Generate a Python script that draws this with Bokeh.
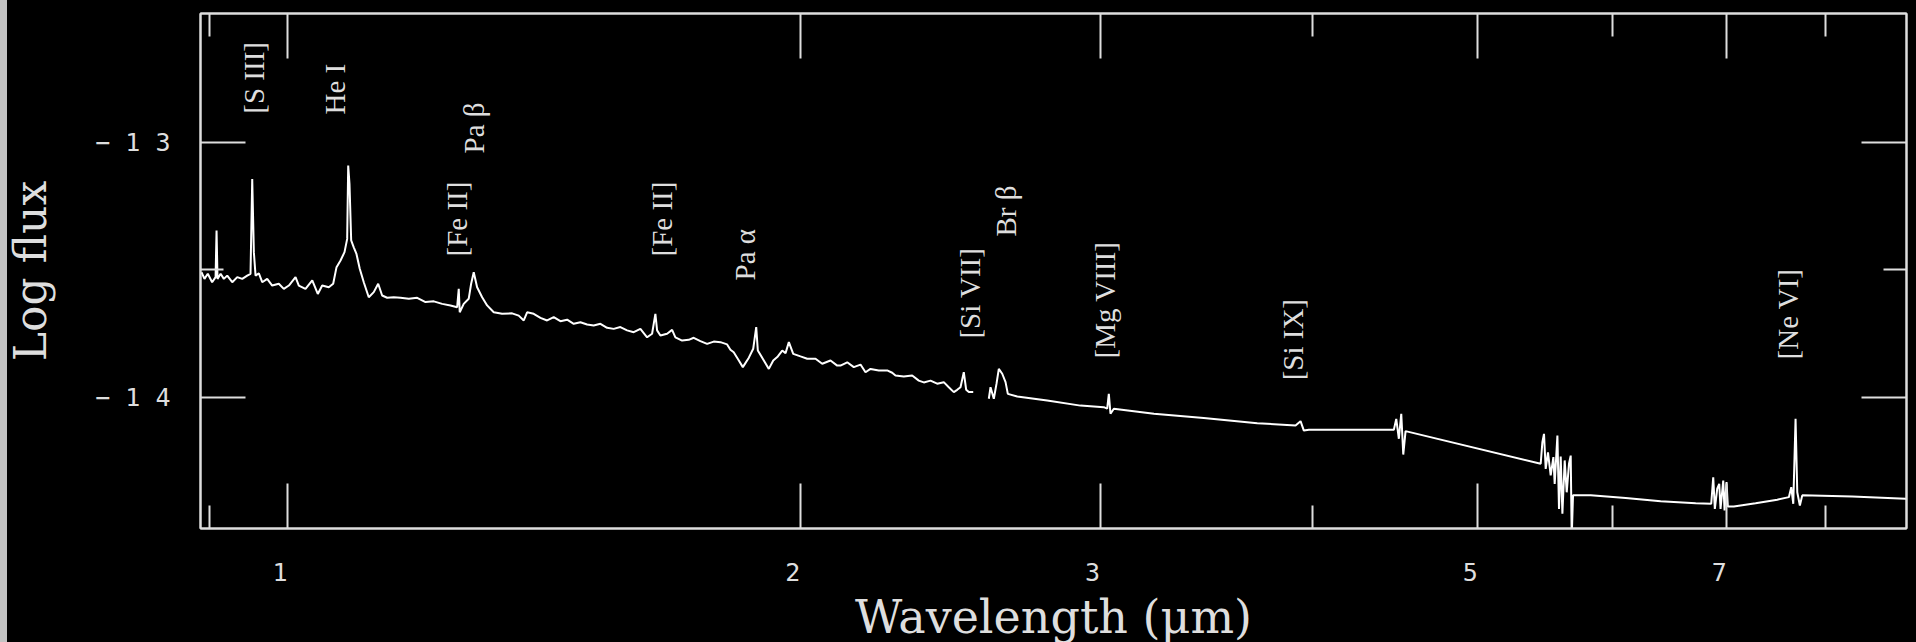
import numpy as np
from bokeh.plotting import figure
from bokeh.models import (Range1d, FixedTicker, LogAxis, LinearAxis,
                          GlobalInlineStyleSheet, CustomLabelingPolicy)
from bokeh.core.properties import value
from bokeh.embed import file_html
from bokeh.resources import INLINE

NAN = float("nan")

# Spectrum: wavelength (micron) and log flux
wavelength = [
    0.8902, 0.8938, 0.8978, 0.9031, 0.9073, 0.9085, 0.9097, 0.9135, 0.9175, 0.9217,
    0.9280, 0.9343, 0.9406, 0.9470, 0.9512, 0.9534, 0.9555, 0.9577, 0.9620, 0.9664,
    0.9729, 0.9795, 0.9883, 0.9950, 1.0018, 1.0109, 1.0154, 1.0246, 1.0340, 1.0418,
    1.0480, 1.0574, 1.0637, 1.0685, 1.0743, 1.0801, 1.0840, 1.0855, 1.0874, 1.0899,
    1.0937, 1.0977, 1.1026, 1.1086, 1.1161, 1.1237, 1.1304, 1.1365, 1.1442, 1.1545,
    1.1650, 1.1782, 1.1916, 1.2051, 1.2187, 1.2326, 1.2465, 1.2578, 1.2605, 1.2622,
    1.2690, 1.2776, 1.2818, 1.2863, 1.2922, 1.3010, 1.3098, 1.3216, 1.3366, 1.3548,
    1.3670, 1.3763, 1.3826, 1.3950, 1.4077, 1.4205, 1.4332, 1.4462, 1.4594, 1.4725,
    1.4859, 1.4994, 1.5128, 1.5266, 1.5405, 1.5543, 1.5684, 1.5827, 1.5969, 1.6114,
    1.6261, 1.6371, 1.6444, 1.6482, 1.6556, 1.6706, 1.6820, 1.6895, 1.7049, 1.7202,
    1.7319, 1.7476, 1.7635, 1.7794, 1.7956, 1.8119, 1.8200, 1.8281, 1.8408, 1.8508,
    1.8659, 1.8770, 1.8846, 1.8887, 1.9041, 1.9170, 1.9285, 1.9405, 1.9521, 1.9608,
    1.9696, 1.9813, 2.0009, 2.0191, 2.0419, 2.0605, 2.0837, 2.1027, 2.1120, 2.1313,
    2.1504, 2.1700, 2.1847, 2.1995, 2.2243, 2.2497, 2.2650, 2.2751, 2.3008, 2.3270,
    2.3479, 2.3638, 2.3853, 2.4070, 2.4286, 2.4451, 2.4617, 2.4730, 2.4841, 2.4952,
    2.5033, 2.5122, 2.5272, 2.5500,
    2.5811, 2.5870, 2.5986, 2.6081, 2.6162, 2.6283, 2.6401, 2.6483, 2.6822, 2.7931,
    2.9217, 3.0152, 3.0291, 3.0357, 3.0426, 3.0563, 3.2265, 3.4514, 3.7105, 3.9076,
    3.9341, 3.9517, 3.9786, 4.4631, 4.4776, 4.4934, 4.5080, 4.5202, 4.5343, 5.4432,
    5.4557, 5.4676, 5.4802, 5.4972, 5.5173, 5.5375, 5.5472, 5.5676, 5.5797, 5.5925,
    5.6053, 5.6228, 5.6381, 5.6556, 5.6687, 5.6763, 5.6864, 5.8240, 6.1061, 6.4016,
    6.7125, 6.8549, 6.8734, 6.8883, 6.9107, 6.9295, 6.9417, 6.9670, 6.9794, 6.9982,
    7.0105, 7.0676, 7.2784, 7.4950, 7.6135, 7.6382, 7.6589, 7.6827, 7.7004, 7.7276,
    7.7527, 8.2946, 8.9140, 8.9743,
]
log_flux = [
    -13.510, -13.536, -13.516, -13.549, -13.529, -13.346, -13.536, -13.516, -13.536, -13.523,
    -13.549, -13.529, -13.536, -13.523, -13.516, -13.144, -13.431, -13.523, -13.514, -13.549,
    -13.536, -13.562, -13.555, -13.575, -13.562, -13.529, -13.562, -13.575, -13.542, -13.595,
    -13.562, -13.569, -13.555, -13.490, -13.464, -13.431, -13.379, -13.091, -13.163, -13.385,
    -13.412, -13.438, -13.496, -13.549, -13.608, -13.588, -13.555, -13.601, -13.610, -13.608,
    -13.610, -13.614, -13.610, -13.627, -13.624, -13.634, -13.640, -13.647, -13.575, -13.667,
    -13.634, -13.614, -13.555, -13.510, -13.569, -13.608, -13.640, -13.667, -13.673, -13.671,
    -13.680, -13.699, -13.667, -13.673, -13.689, -13.699, -13.686, -13.702, -13.696, -13.712,
    -13.706, -13.715, -13.719, -13.712, -13.728, -13.732, -13.725, -13.738, -13.745, -13.732,
    -13.765, -13.751, -13.673, -13.738, -13.758, -13.751, -13.736, -13.765, -13.778, -13.775,
    -13.767, -13.780, -13.791, -13.782, -13.784, -13.793, -13.814, -13.824, -13.856, -13.882,
    -13.845, -13.810, -13.725, -13.817, -13.856, -13.889, -13.856, -13.840, -13.817, -13.827,
    -13.784, -13.830, -13.840, -13.849, -13.849, -13.869, -13.856, -13.876, -13.876, -13.863,
    -13.882, -13.872, -13.902, -13.889, -13.895, -13.895, -13.904, -13.915, -13.919, -13.915,
    -13.935, -13.942, -13.935, -13.947, -13.941, -13.961, -13.980, -13.971, -13.961, -13.902,
    -13.971, -13.980, -13.980, NAN,
    -14.006, -13.961, -14.006, -13.947, -13.889, -13.908, -13.941, -13.987, -13.997, -14.013,
    -14.033, -14.039, -14.045, -13.987, -14.065, -14.045, -14.065, -14.082, -14.102, -14.111,
    -14.094, -14.131, -14.128, -14.128, -14.085, -14.163, -14.065, -14.225, -14.133, -14.261,
    -14.176, -14.144, -14.281, -14.216, -14.307, -14.235, -14.340, -14.150, -14.438, -14.233,
    -14.457, -14.248, -14.373, -14.261, -14.229, -14.550, -14.385, -14.385, -14.395, -14.408,
    -14.416, -14.418, -14.314, -14.438, -14.359, -14.340, -14.438, -14.327, -14.444, -14.333,
    -14.429, -14.429, -14.416, -14.402, -14.392, -14.353, -14.418, -14.085, -14.373, -14.425,
    -14.385, -14.389, -14.398, -14.399,
]

# Emission-line identifications: name, wavelength, log flux where the label starts
line_names = ["[S III]", "He I", "[Fe II]", "Pa β", "[Fe II]", "Pa α",
              "[Si VII]", "Br β", "[Mg VIII]", "[Si IX]", "[Ne VI]"]
line_wavelengths = [0.956, 1.067, 1.258, 1.287, 1.659, 1.856,
                    2.515, 2.641, 3.022, 3.892, 7.605]
label_base = [-12.888, -12.891, -13.448, -13.044, -13.448, -13.542,
              -13.770, -13.370, -13.848, -13.934, -13.852]

x_major = [1, 2, 3, 5, 7]
x_minor = [0.9, 4, 6, 8]
x_labels = ["1", "2", "3", "5", "7"]
y_major = [-14, -13]
y_minor = [-13.5]
y_labels = ["−\u00a01\u00a04", "−\u00a01\u00a03"]

FG = "#dedede"

p = figure(width=1916, height=653, x_axis_type="log",
           x_range=Range1d(0.889, 8.926), y_range=Range1d(-14.515, -12.495),
           output_backend="svg", toolbar_location=None,
           background_fill_color="black", border_fill_color="black",
           min_border_left=200, min_border_right=10, min_border_top=13,
           min_border_bottom=125,
           outline_line_color=FG, outline_line_width=2)
p.grid.visible = False

p.stylesheets = [GlobalInlineStyleSheet(css=(
    "html{overflow:hidden;background:#000;}"
    "body{background:#000;overflow:hidden;}"
    "body::after{content:'';position:fixed;left:0;top:0;width:7px;height:100%;"
    "background:#c3c3c3;z-index:2147483647;pointer-events:none;}"))]

p.add_layout(LogAxis(), "above")
p.add_layout(LinearAxis(), "right")

x_ticker = FixedTicker(ticks=x_major, minor_ticks=x_minor)
y_ticker = FixedTicker(ticks=y_major, minor_ticks=y_minor)

for ax in p.xaxis:
    ax.ticker = x_ticker
for ax in p.yaxis:
    ax.ticker = y_ticker

for ax in list(p.xaxis) + list(p.yaxis):
    ax.major_tick_in = 45
    ax.major_tick_out = 0
    ax.minor_tick_in = 23
    ax.minor_tick_out = 0
    ax.major_tick_line_color = FG
    ax.minor_tick_line_color = FG
    ax.major_tick_line_width = 2
    ax.minor_tick_line_width = 2
    ax.axis_line_color = FG
    ax.axis_line_width = 2
    ax.major_label_text_color = FG
    ax.major_label_text_font = "DejaVu Sans Mono"
    ax.major_label_text_font_size = "25px"
    ax.axis_label_text_color = FG
    ax.axis_label_text_font = "DejaVu Serif"
    ax.axis_label_text_font_style = "normal"

bottom = p.below[0]
left = p.left[0]
top = p.above[0]
right = p.right[0]

bottom.major_label_overrides = {v: t + "\u00a0" for v, t in zip(x_major, x_labels)}
bottom.major_label_standoff = 29
bottom.axis_label = "Wavelength (μm)"
bottom.axis_label_text_font_size = "46px"
bottom.axis_label_standoff = 0

left.major_label_overrides = {v: t for v, t in zip(y_major, y_labels)}
left.major_label_standoff = 30
left.axis_label = "Log flux"
left.axis_label_text_font_size = "44px"
left.axis_label_standoff = 36

for ax in (top, right):
    ax.major_label_text_font_size = "0px"
    ax.major_label_standoff = 0
    ax.major_label_policy = CustomLabelingPolicy(code="return [];")
    ax.axis_label = None

p.line(np.array(wavelength, dtype=float), np.array(log_flux, dtype=float),
       line_color="white", line_width=2)

p.text(x=line_wavelengths, y=label_base, text=line_names, angle=np.pi / 2,
       text_align="left", text_baseline="middle",
       text_font=value("Liberation Serif"), text_font_size="29px",
       text_color=FG)

open("out.html", "w").write(file_html(p, INLINE))
